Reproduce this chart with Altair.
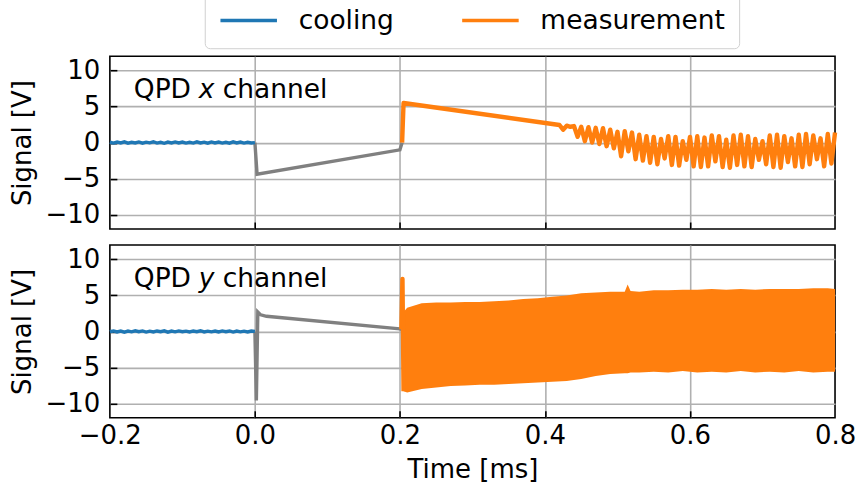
import altair as alt
import pandas as pd

# ---------------- data ----------------
SERIES = ["cooling", "measurement"]
COLORS = ["#1f77b4", "#ff7f0e"]
X_TICKS = [-0.2, 0.0, 0.2, 0.4, 0.6, 0.8]
X_INNER = [0.0, 0.2, 0.4, 0.6]
Y_TICKS = [-10, -5, 0, 5, 10]

# cooling phase (-0.2 .. 0 ms), sampled every 0.005 ms
cool_t = [round(-0.2 + 0.005 * i, 3) for i in range(41)]
cool_x = [0.05, -0.06, 0.08, -0.04, 0.10, -0.07, 0.04, -0.05, 0.09, -0.08, 0.06,
          -0.03, 0.12, -0.06, 0.05, -0.09, 0.07, -0.04, 0.10, -0.05, 0.08, -0.07,
          0.04, -0.06, 0.11, -0.05, 0.06, -0.08, 0.09, -0.04, 0.07, -0.06, 0.05,
          -0.07, 0.10, -0.05, 0.08, -0.06, 0.04, -0.05, 0.00]
cool_y = [-0.04, 0.06, -0.08, 0.05, -0.10, 0.04, -0.06, 0.08, -0.05, 0.07, -0.09,
          0.03, -0.07, 0.06, -0.04, 0.08, -0.10, 0.05, -0.06, 0.07, -0.05, 0.04,
          -0.08, 0.06, -0.05, 0.09, -0.07, 0.04, -0.06, 0.05, -0.08, 0.07, -0.04,
          0.06, -0.09, 0.05, -0.06, 0.04, -0.07, 0.05, 0.00]

# free evolution (grey)
gray_x_t = [0.0, 0.003, 0.2, 0.203]
gray_x_v = [0.0, -4.4, -1.0, 0.0]
gray_y_t = [0.0, 0.002, 0.004, 0.008, 0.016, 0.2, 0.202]
gray_y_v = [0.0, -9.6, 2.7, 2.3, 2.1, 0.35, 0.3]

# measurement, x channel: ramp, then oscillation peaks / troughs
meas_x_head_t = [0.203, 0.205, 0.42]
meas_x_head_v = [0.0, 5.5, 2.45]
meas_x_peak_t = [round(0.43 + 0.01 * k, 3) for k in range(38)]
meas_x_peak_v = [2.35, 2.3, 2.2, 2.15, 2.05, 2.0, 1.8, 1.5, 1.6, 1.4,
                 1.1, 0.9, 0.8, 0.5, 0.9, 0.8, 0.2, 0.8, 0.9, 0.7,
                 1.0, 0.9, 0.4, 1.0, 1.1, 0.9, 0.5, 0.2, 1.0, 1.1,
                 0.9, 0.6, 1.1, 1.2, 1.0, 0.6, 1.2, 1.4]
meas_x_trough_t = [round(0.425 + 0.01 * k, 3) for k in range(38)]
meas_x_trough_v = [1.8, 2.2, 0.8, 0.2, 0.0, -0.2, -0.5, -0.8, -1.9, -1.2,
                   -2.3, -2.5, -2.8, -3.0, -2.2, -3.1, -3.2, -2.4, -3.3, -3.4,
                   -3.3, -2.6, -3.4, -3.5, -3.1, -3.3, -3.4, -2.4, -3.0, -3.4,
                   -3.5, -2.7, -3.3, -3.4, -3.0, -2.3, -3.3, -2.9]

# measurement, y channel: kick, then dense oscillation envelope
meas_y_head_t = [0.202, 0.2035, 0.205]
meas_y_head_v = [0.3, 7.3, -8.3]
meas_y_env_t = [0.205, 0.21, 0.23, 0.25, 0.27, 0.29, 0.31, 0.33, 0.35, 0.37,
                0.39, 0.41, 0.43, 0.45, 0.47, 0.49, 0.51, 0.514, 0.518, 0.53,
                0.55, 0.57, 0.59, 0.61, 0.63, 0.65, 0.67, 0.69, 0.71, 0.73,
                0.75, 0.77, 0.79, 0.80]
meas_y_upper = [2.7, 3.3, 3.9, 4.0, 4.0, 4.1, 4.1, 4.2, 4.3, 4.5,
                4.6, 4.8, 5.0, 5.3, 5.4, 5.5, 5.5, 6.5, 5.6, 5.5,
                5.7, 5.7, 5.8, 5.8, 5.9, 5.8, 5.9, 5.8, 5.9, 5.9,
                5.9, 6.0, 6.0, 5.9]
meas_y_lower = [-8.3, -8.5, -8.0, -7.8, -7.6, -7.5, -7.4, -7.4, -7.3, -7.2,
                -7.1, -7.0, -6.9, -6.6, -6.2, -5.9, -5.8, -5.8, -5.7, -5.7,
                -5.6, -5.7, -5.5, -5.7, -5.6, -5.7, -5.5, -5.7, -5.6, -5.7,
                -5.5, -5.7, -5.6, -5.6]

# ---------------- frames ----------------
def frame(t, v, s=None):
    d = pd.DataFrame({"t": t, "v": v})
    d["i"] = range(len(d))
    if s is not None:
        d["s"] = s
    return d

mx = sorted(list(zip(meas_x_head_t, meas_x_head_v))
            + list(zip(meas_x_peak_t, meas_x_peak_v))
            + list(zip(meas_x_trough_t, meas_x_trough_v)))
top_meas = frame([p[0] for p in mx], [p[1] for p in mx], "measurement")
top_cool = frame(cool_t, cool_x, "cooling")
top_gray = frame(gray_x_t, gray_x_v)

bot_meas = frame(meas_y_head_t, meas_y_head_v, "measurement")
bot_cool = frame(cool_t, cool_y, "cooling")
bot_gray = frame(gray_y_t, gray_y_v)
bot_band = pd.DataFrame({"t": meas_y_env_t, "hi": meas_y_upper, "lo": meas_y_lower})

# ---------------- styling ----------------
FONT = "DejaVu Sans"
FS = 26
TFS = 26.5
W, H = 726, 173
XDOM = alt.Scale(domain=[-0.2, 0.8], nice=False, zero=False)
YDOM = alt.Scale(domain=[-12, 12], nice=False, zero=False)
GRID = "#b0b0b0"

color = alt.Color(
    "s:N",
    scale=alt.Scale(domain=SERIES, range=COLORS),
    legend=alt.Legend(
        title=None, orient="none", legendX=95, legendY=-80,
        direction="horizontal", symbolType="stroke", symbolSize=3200,
        symbolStrokeWidth=3.4, labelFontSize=26.5, labelOffset=20,
        labelLimit=500, columnPadding=60, padding=14, strokeColor="#d0d0d0",
        fillColor="white", cornerRadius=5, labelColor="black",
    ),
)


def x_main(show):
    if show:
        return alt.Axis(values=X_TICKS, format=".1f", grid=False, ticks=False,
                        tickSize=0, domain=False, labelFontSize=FS,
                        labelPadding=5, labelFlush=False, labelOverlap=False,
                        labelColor="black", title="Time [ms]",
                        titleFontSize=FS, titleFontWeight="normal",
                        titleColor="black", titlePadding=8, orient="bottom")
    return alt.Axis(values=X_TICKS, grid=False, ticks=False, tickSize=0,
                    domain=False, labels=False, title=None, orient="bottom")


X_TICK_AXIS = alt.Axis(values=X_INNER, grid=True, gridColor=GRID, gridWidth=1.6,
                       ticks=True, tickSize=7, tickWidth=1.6, tickColor="black",
                       offset=-7, labels=False, domain=False, title=None,
                       orient="bottom")
Y_MAIN = alt.Axis(values=Y_TICKS, grid=False, ticks=False, tickSize=0,
                  domain=False, labelFontSize=FS, labelPadding=10,
                  labelFlush=False, labelColor="black", title="Signal [V]",
                  titleFontSize=FS, titleFontWeight="normal",
                  titleColor="black", titlePadding=10, orient="left")
Y_TICK_AXIS = alt.Axis(values=Y_TICKS, grid=True, gridColor=GRID, gridWidth=1.6,
                       ticks=True, tickSize=7, tickWidth=1.6, tickColor="black",
                       offset=-7, labels=False, domain=False, title=None,
                       orient="left")

LW = 3.4


def label_layers(letter):
    one = pd.DataFrame({"a": [0]})
    base = alt.Chart(one)
    return [
        base.mark_text(text="QPD", font=FONT, fontSize=TFS, align="left",
                       baseline="alphabetic", color="black")
            .encode(x=alt.value(24), y=alt.value(42)),
        base.mark_text(text=letter, font=FONT, fontSize=TFS, fontStyle="italic",
                       align="left", baseline="alphabetic", color="black")
            .encode(x=alt.value(89), y=alt.value(42)),
        base.mark_text(text="channel", font=FONT, fontSize=TFS, align="left",
                       baseline="alphabetic", color="black")
            .encode(x=alt.value(113), y=alt.value(42)),
    ]


def panel(cool, gray, meas, band, letter, show_x):
    gray_l = alt.Chart(gray).mark_line(color="#808080", strokeWidth=LW).encode(
        x=alt.X("t:Q", scale=XDOM, axis=x_main(show_x)),
        y=alt.Y("v:Q", scale=YDOM, axis=Y_MAIN),
        order="i:Q",
    )
    cool_l = alt.Chart(cool).mark_line(strokeWidth=LW).encode(
        x=alt.X("t:Q", scale=XDOM, axis=X_TICK_AXIS),
        y=alt.Y("v:Q", scale=YDOM, axis=Y_TICK_AXIS),
        color=color,
        order="i:Q",
    )
    layers = [gray_l, cool_l]
    if band is not None:
        layers.append(
            alt.Chart(band).mark_area(color=COLORS[1], opacity=1).encode(
                x=alt.X("t:Q", scale=XDOM, axis=None),
                y=alt.Y("hi:Q", scale=YDOM, axis=None),
                y2="lo:Q",
            )
        )
    layers.append(
        alt.Chart(meas).mark_line(strokeWidth=4.4, strokeJoin="round").encode(
            x=alt.X("t:Q", scale=XDOM, axis=None),
            y=alt.Y("v:Q", scale=YDOM, axis=None),
            color=color,
            order="i:Q",
        )
    )
    layers += label_layers(letter)
    return alt.layer(*layers).resolve_axis(x="independent", y="independent") \
        .properties(width=W, height=H)


top = panel(top_cool, top_gray, top_meas, None, "x", False)
bottom = panel(bot_cool, bot_gray, bot_meas, bot_band, "y", True)

chart = alt.vconcat(top, bottom, spacing=13).properties(
    padding={"left": 8, "top": -25, "right": 3, "bottom": 3}
).configure(font=FONT).configure_view(stroke="black", strokeWidth=1.6)

chart.save("out.html", embed_options={"renderer": "svg", "actions": False})
